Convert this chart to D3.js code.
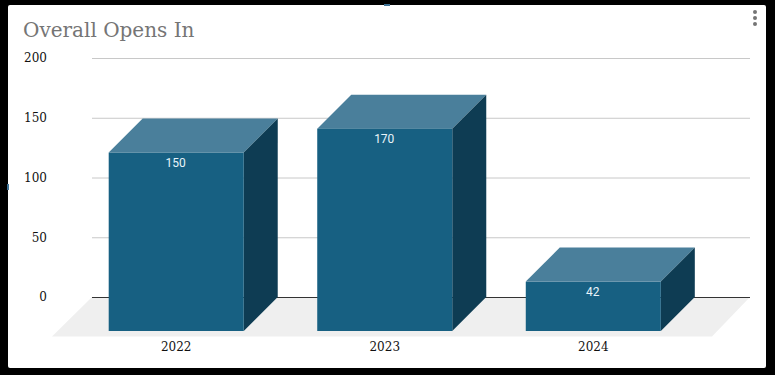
<!DOCTYPE html>
<html>
<head>
<meta charset="utf-8">
<script src="https://cdn.jsdelivr.net/npm/d3@7"></script>
<style>
  html, body { margin: 0; padding: 0; background: #000; }
  svg { display: block; }
</style>
</head>
<body>
<svg id="chart" width="775" height="375"></svg>
<script>
const years = ["2022", "2023", "2024"];
const opens = [150, 170, 42];
const yTicks = [0, 50, 100, 150, 200];

const depth = 34; // how far the front face sits down-left of the axis plane
const serif = "'DejaVu Serif', serif";

let svg = d3.select("#chart");

// white card on the black page
svg.append("rect")
  .attr("x", 8).attr("y", 5)
  .attr("width", 758).attr("height", 363)
  .attr("rx", 2)
  .attr("fill", "#fff");

// tiny specks on the card edge
svg.append("rect").attr("x", 384).attr("y", 4).attr("width", 6).attr("height", 2).attr("fill", "#3f7396");
svg.append("rect").attr("x", 7).attr("y", 184).attr("width", 2).attr("height", 6).attr("fill", "#3f7396");

svg.append("text")
  .attr("x", 23).attr("y", 37)
  .attr("font-family", serif)
  .attr("font-size", 20)
  .attr("fill", "#757575")
  .text("Overall Opens In");

// menu dots
svg.selectAll(".dot")
  .data([12, 18, 24])
  .enter().append("circle")
  .attr("class", "dot")
  .attr("cx", 755).attr("cy", d => d)
  .attr("r", 2)
  .attr("fill", "#757575");

// Set up the scales
let xScale = d3.scaleBand()
  .domain(years)
  .range([72, 697.5])
  .paddingInner(0.3525)
  .paddingOuter(0.176);
let yScale = d3.scaleLinear()
  .domain([0, 200])
  .range([297, 58]);

// bars sit a touch lower than the gridlines in the original
let barTop = v => yScale(v) + 0.8;

// floor
svg.append("path")
  .attr("d", "M92,297L750,297L712,336.5L52,336.5Z")
  .attr("fill", "#efefef");

// gridlines and labels
let yAxis = svg.append("g")
  .attr("transform", "translate(92,0)")
  .call(d3.axisLeft(yScale).tickValues(yTicks).tickSize(-658).tickPadding(45).tickFormat(d3.format("d")));
yAxis.select(".domain").remove();
yAxis.selectAll("line")
  .attr("stroke", d => d === 0 ? "#333333" : "#c8c8c8");
yAxis.selectAll("text")
  .attr("font-family", serif)
  .attr("font-size", 12)
  .attr("fill", "#111111");

let xAxis = svg.append("g")
  .attr("transform", "translate(0,331)")
  .call(d3.axisBottom(xScale).tickSize(0).tickPadding(11));
xAxis.select(".domain").remove();
xAxis.selectAll("text")
  .attr("font-family", serif)
  .attr("font-size", 12)
  .attr("fill", "#111111");

// bars
let rows = years.map((year, i) => ({ year: year, value: opens[i] }));
let bars = svg.selectAll(".bar")
  .data(rows)
  .enter().append("g")
  .attr("class", "bar");

// top face
bars.append("path")
  .attr("d", d => {
    let x0 = xScale(d.year), x1 = x0 + xScale.bandwidth(), y = barTop(d.value);
    return "M" + x0 + "," + (y + depth) + "L" + (x0 + depth) + "," + y + "L" + (x1 + depth) + "," + y + "L" + x1 + "," + (y + depth) + "Z";
  })
  .attr("fill", "#4a7f9b");

// side face
bars.append("path")
  .attr("d", d => {
    let x1 = xScale(d.year) + xScale.bandwidth(), y = barTop(d.value), base = yScale(0);
    return "M" + x1 + "," + (y + depth) + "L" + (x1 + depth) + "," + y + "L" + (x1 + depth) + "," + base + "L" + x1 + "," + (base + depth) + "Z";
  })
  .attr("fill", "#0e3c53");

// front face
bars.append("rect")
  .attr("x", d => xScale(d.year))
  .attr("y", d => barTop(d.value) + depth)
  .attr("width", xScale.bandwidth())
  .attr("height", d => yScale(0) - barTop(d.value))
  .attr("fill", "#176082");

// value labels
bars.append("text")
  .attr("x", d => xScale(d.year) + xScale.bandwidth() / 2 - 0.5)
  .attr("y", d => barTop(d.value) + depth + 14)
  .attr("text-anchor", "middle")
  .attr("font-family", "Roboto, sans-serif")
  .attr("font-size", 12)
  .attr("fill", "#e8f4fa")
  .text(d => d.value);
</script>
</body>
</html>
